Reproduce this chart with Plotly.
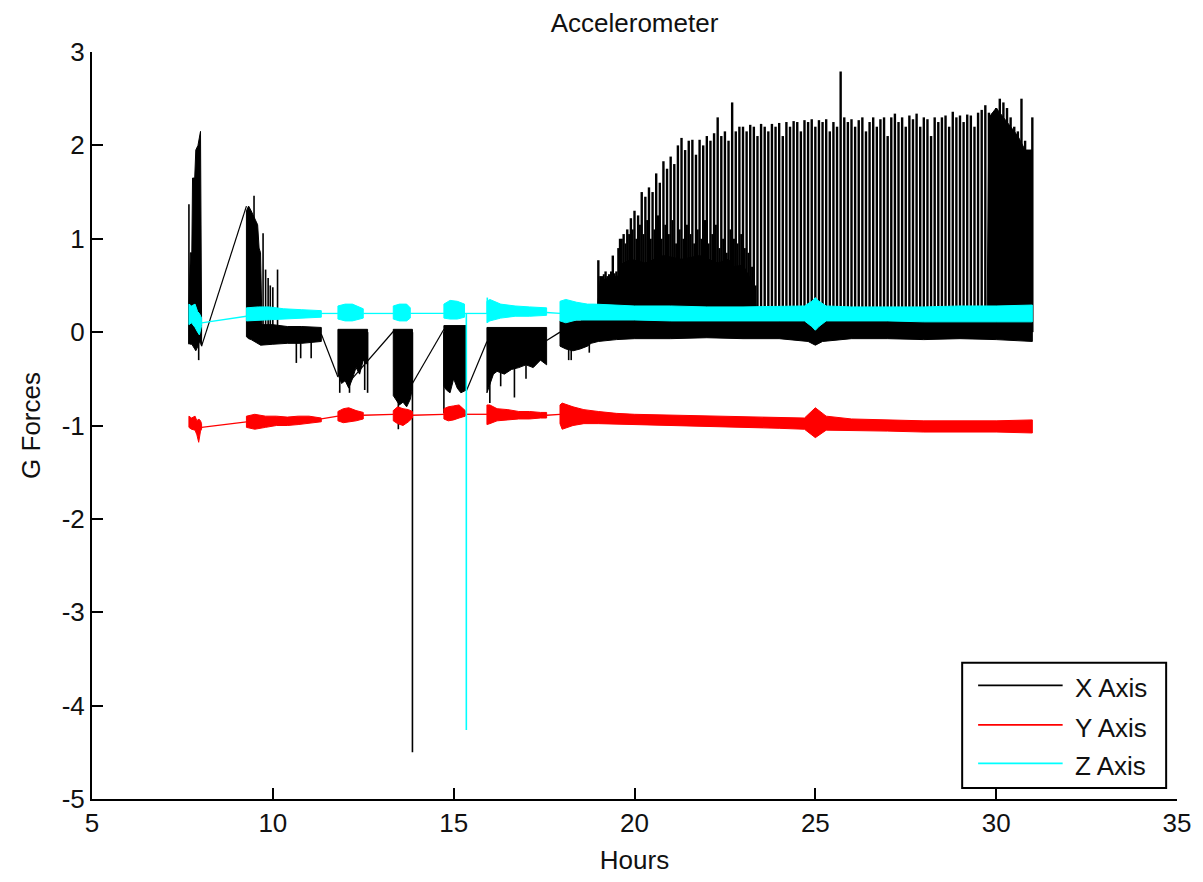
import plotly.graph_objects as go

# ---------------- data (hours, G) ----------------
# X axis (black): dense envelope segments (None separates segments)
X_BAND_T = [7.68, 7.72, 7.76, 7.78, 7.84, 7.87, 7.93, 7.97, 8.0, 8.03, None,
            9.27, 9.33, 9.4, 9.5, 9.58, 9.62, 9.66, 9.7, 10.0, 10.4, 10.8, 11.34, None,
            11.8, 11.9, 12.0, 12.1, 12.2, 12.3, 12.4, 12.5, 12.62, None,
            13.33, 13.4, 13.5, 13.6, 13.7, 13.8, 13.86, None,
            14.73, 14.8, 14.9, 15.0, 15.1, 15.2, 15.35, None,
            15.92, 16.0, 16.1, 16.2, 16.4, 16.6, 16.8, 17.0, 17.2, 17.4, 17.57, None,
            17.94, 18.1, 18.3, 18.5, 18.7, 18.8, 19.0, 19.5, 20.0, 21.0, 22.0, 23.0, 24.0,
            24.8, 25.0, 25.2, 26.0, 27.0, 28.0, 29.0, 30.0, 31.0, None,
            18.95, 19.05, 19.3, 19.55, 19.6, 19.9, 20.3, 20.8, 21.3, 21.8, 22.3, 22.6,
            22.75, 23.0, 23.3, 23.4, None,
            29.75, 29.8, 30.0, 30.2, 30.4, 30.6, 30.8, 31.0]
X_BAND_HI = [0.3, 0.85, 0.85, 1.65, 1.65, 1.95, 2.0, 2.1, 2.15, 0.1, None,
             1.3, 1.35, 1.3, 1.22, 1.15, 0.9, 0.85, 0.08, 0.08, 0.06, 0.06, 0.05, None,
             0.03, 0.03, 0.03, 0.03, 0.03, 0.03, 0.03, 0.03, 0.03, None,
             0.03, 0.03, 0.03, 0.03, 0.03, 0.03, 0.03, None,
             0.07, 0.07, 0.07, 0.07, 0.07, 0.07, 0.07, None,
             0.05, 0.05, 0.05, 0.05, 0.05, 0.05, 0.05, 0.05, 0.05, 0.05, 0.05, None,
             0.12, 0.12, 0.12, 0.12, 0.15, 0.2, 0.2, 0.2, 0.2, 0.2, 0.2, 0.2, 0.2,
             0.2, 0.2, 0.2, 0.2, 0.2, 0.2, 0.2, 0.2, 0.2, None,
             0.15, 0.55, 0.58, 0.6, 0.72, 0.78, 0.74, 0.82, 0.78, 0.82, 0.74, 0.78,
             0.7, 0.72, 0.5, 0.15, None,
             0.2, 2.3, 2.4, 2.3, 2.2, 2.1, 1.95, 1.95]
X_BAND_LO = [-0.12, -0.13, -0.13, -0.15, -0.18, -0.2, -0.15, -0.1, -0.12, -0.15, None,
             -0.05, -0.07, -0.08, -0.1, -0.12, -0.13, -0.14, -0.14, -0.13, -0.12, -0.12, -0.1, None,
             -0.45, -0.55, -0.52, -0.6, -0.5, -0.38, -0.45, -0.3, -0.35, None,
             -0.68, -0.72, -0.78, -0.75, -0.8, -0.72, -0.6, None,
             -0.58, -0.62, -0.65, -0.5, -0.6, -0.65, -0.62, None,
             -0.65, -0.55, -0.45, -0.42, -0.45, -0.4, -0.38, -0.35, -0.38, -0.3, -0.35, None,
             -0.15, -0.18, -0.2, -0.18, -0.15, -0.12, -0.1, -0.08, -0.07, -0.07, -0.06, -0.07, -0.07,
             -0.1, -0.14, -0.1, -0.07, -0.07, -0.08, -0.07, -0.08, -0.1, None,
             0.1, 0.1, 0.1, 0.1, 0.1, 0.1, 0.1, 0.1, 0.1, 0.1, 0.1, 0.1,
             0.1, 0.1, 0.1, 0.1, None,
             0.1, 0.1, 0.1, 0.1, 0.1, 0.1, 0.1, 0.1]

# X axis isolated spikes: time, low, high
X_SPIKE_T = [7.68, 7.95, 9.48, 9.73, 9.8, 9.87, 9.93, 10.0, 10.13, 10.65, 10.77, 11.06,
             11.85, 12.12, 12.54, 12.62, 13.47, 13.86, 14.73, 16.0, 16.3, 16.68, 17.0,
             18.18, 18.25, 18.75]
X_SPIKE_LO = [-0.13, -0.3, 0.0, 0.0, 0.0, 0.0, 0.0, 0.0, 0.0, -0.33, -0.28, -0.28,
              -0.65, -0.65, -0.62, -0.65, -1.04, -4.5, -0.87, -0.76, -0.58, -0.7, -0.5,
              -0.3, -0.3, -0.22]
X_SPIKE_HI = [1.37, 0.0, 1.46, 1.06, 0.67, 0.58, 0.5, 0.48, 0.67, 0.0, 0.0, 0.0,
              0.0, 0.0, 0.0, 0.0, 0.0, 0.0, 0.0, 0.0, 0.0, 0.0, 0.0,
              0.0, 0.0, 0.0]

# X axis periodic pulses after 19 h
X_PULSE_BASE = 0.0
X_PULSE_T = [19.0, 19.1, 19.2, 19.3, 19.4, 19.5, 19.6, 19.7, 19.8, 19.9,
             20.0, 20.1, 20.2, 20.3, 20.4, 20.5, 20.6, 20.7, 20.8, 20.9,
             21.0, 21.1, 21.2, 21.3, 21.4, 21.5, 21.6, 21.7, 21.8, 21.9,
             22.0, 22.1, 22.2, 22.3, 22.4, 22.5, 22.6, 22.7, 22.8, 22.9,
             23.0, 23.1, 23.2, 23.3, 23.4, 23.5, 23.6, 23.7, 23.8, 23.9,
             24.0, 24.1, 24.2, 24.3, 24.4, 24.5, 24.6, 24.7, 24.8, 24.9,
             25.0, 25.1, 25.2, 25.3, 25.4, 25.5, 25.6, 25.7, 25.8, 25.9,
             26.0, 26.1, 26.2, 26.3, 26.4, 26.5, 26.6, 26.7, 26.8, 26.9,
             27.0, 27.1, 27.2, 27.3, 27.4, 27.5, 27.6, 27.7, 27.8, 27.9,
             28.0, 28.1, 28.2, 28.3, 28.4, 28.5, 28.6, 28.7, 28.8, 28.9,
             29.0, 29.1, 29.2, 29.3, 29.4, 29.5, 29.6, 29.7, 29.8, 29.9,
             30.0, 30.1, 30.2, 30.3, 30.4, 30.5, 30.6, 30.7, 30.8, 30.9, 31.0]
X_PULSE_PEAK = [0.77, 0.6, 0.65, 0.62, 0.82, 0.65, 1.0, 1.05, 1.1, 1.22,
                1.3, 1.25, 1.5, 1.45, 1.55, 1.5, 1.7, 1.6, 1.83, 1.75,
                1.88, 1.8, 2.0, 2.08, 1.95, 2.05, 2.06, 1.9, 2.06, 2.0,
                2.1, 2.05, 2.13, 2.3, 2.1, 2.15, 2.05, 2.46, 2.15, 2.2,
                2.2, 2.15, 2.22, 2.2, 2.1, 2.23, 2.2, 2.15, 2.23, 2.2,
                2.24, 2.1, 2.25, 2.2, 2.26, 2.25, 2.15, 2.27, 2.25, 2.28,
                2.2, 2.27, 2.25, 2.28, 2.15, 2.25, 2.2, 2.79, 2.3, 2.25,
                2.28, 2.2, 2.27, 2.3, 2.15, 2.25, 2.3, 2.2, 2.28, 2.3,
                2.1, 2.3, 2.34, 2.25, 2.3, 2.2, 2.32, 2.28, 2.34, 2.2,
                2.3, 2.28, 2.1, 2.3, 2.25, 2.3, 2.32, 2.2, 2.36, 2.3,
                2.32, 2.25, 2.33, 2.32, 2.2, 2.35, 2.38, 2.43, 2.35, 2.34,
                2.4, 2.5, 2.46, 2.4, 2.3, 2.2, 2.15, 2.5, 2.05, 1.95, 2.3]
# shorter in-between pulses (19-23.4 h) that make the dense lower part
X_MINOR_T = [19.05, 19.15, 19.25, 19.35, 19.45, 19.55, 19.65, 19.75, 19.85, 19.95,
             20.05, 20.15, 20.25, 20.35, 20.45, 20.55, 20.65, 20.75, 20.85, 20.95,
             21.05, 21.15, 21.25, 21.35, 21.45, 21.55, 21.65, 21.75, 21.85, 21.95,
             22.05, 22.15, 22.25, 22.35, 22.45, 22.55, 22.65, 22.75, 22.85, 22.95,
             23.05, 23.15, 23.25, 23.35]
X_MINOR_PEAK = [0.6, 0.62, 0.6, 0.65, 0.63, 0.9, 1.0, 0.95, 1.05, 1.1,
                1.0, 1.15, 1.05, 1.2, 1.0, 1.1, 1.25, 1.0, 1.15, 1.05,
                1.2, 0.95, 1.1, 1.0, 1.15, 1.05, 0.95, 1.1, 1.0, 1.2,
                0.95, 1.05, 1.15, 0.9, 1.0, 0.85, 1.1, 1.0, 0.95, 1.05,
                0.9, 0.85, 0.7, 0.5]

# X axis straight lines across recording gaps
X_LINK_T = [8.03, 9.27, None, 11.34, 11.8, None, 12.08, 13.36, None,
            13.86, 14.73, None, 15.35, 15.92, None, 17.57, 17.94]
X_LINK_V = [-0.15, 1.35, None, -0.02, -0.48, None, -0.55, 0.02, None,
            -0.55, 0.03, None, -0.63, -0.1, None, -0.09, 0.0]

# Y axis (red)
Y_BAND_T = [7.68, 7.75, 7.85, 7.9, 7.95, 8.0, 8.03, None,
            9.27, 9.5, 9.8, 10.1, 10.4, 10.7, 11.0, 11.34, None,
            11.8, 11.95, 12.1, 12.3, 12.5, None,
            13.33, 13.45, 13.6, 13.75, 13.86, None,
            14.73, 14.85, 15.0, 15.15, 15.32, None,
            15.92, 16.0, 16.2, 16.5, 16.8, 17.1, 17.4, 17.57, None,
            17.94, 18.0, 18.3, 18.6, 19.0, 19.5, 20.0, 21.0, 22.0, 23.0, 24.0,
            24.7, 25.0, 25.3, 26.0, 27.0, 28.0, 29.0, 30.0, 31.0]
Y_BAND_HI = [-0.9, -0.92, -0.9, -0.95, -0.93, -0.95, -0.98, None,
             -0.9, -0.88, -0.9, -0.9, -0.91, -0.9, -0.9, -0.92, None,
             -0.85, -0.82, -0.81, -0.84, -0.86, None,
             -0.84, -0.8, -0.82, -0.83, -0.85, None,
             -0.82, -0.8, -0.79, -0.78, -0.84, None,
             -0.78, -0.78, -0.82, -0.83, -0.85, -0.85, -0.86, -0.86, None,
             -0.78, -0.76, -0.8, -0.83, -0.85, -0.87, -0.88, -0.89, -0.9, -0.91, -0.92,
             -0.92, -0.81, -0.9, -0.93, -0.94, -0.95, -0.95, -0.95, -0.94]
Y_BAND_LO = [-1.02, -1.04, -1.05, -1.1, -1.18, -1.06, -1.04, None,
             -1.02, -1.04, -1.02, -1.0, -1.0, -0.99, -0.98, -0.96, None,
             -0.95, -0.97, -0.96, -0.95, -0.93, None,
             -0.95, -0.98, -1.0, -0.96, -0.92, None,
             -0.93, -0.95, -0.94, -0.92, -0.9, None,
             -0.99, -0.98, -0.95, -0.94, -0.93, -0.93, -0.92, -0.92, None,
             -0.98, -1.04, -1.0, -0.98, -0.98, -0.98, -0.99, -1.0, -1.01, -1.02, -1.03,
             -1.04, -1.13, -1.05, -1.05, -1.06, -1.07, -1.07, -1.07, -1.08]
Y_LINK_T = [8.03, 9.27, None, 11.34, 11.8, None, 12.5, 13.33, None,
            13.86, 14.73, None, 15.32, 15.92, None, 17.57, 17.94]
Y_LINK_V = [-1.02, -0.96, None, -0.93, -0.9, None, -0.89, -0.88, None,
            -0.89, -0.88, None, -0.88, -0.88, None, -0.89, -0.88]

# Z axis (cyan)
Z_BAND_T = [7.68, 7.75, 7.85, 7.92, 7.97, 8.03, None,
            9.27, 9.6, 9.9, 10.3, 10.8, 11.34, None,
            11.8, 12.0, 12.2, 12.4, 12.5, None,
            13.33, 13.5, 13.7, 13.8, None,
            14.73, 14.9, 15.1, 15.3, None,
            15.92, 16.0, 16.3, 16.7, 17.1, 17.57, None,
            17.94, 18.1, 18.4, 18.7, 18.9, 19.5, 20.0, 21.0, 22.0, 23.0, 24.0,
            24.7, 24.9, 25.0, 25.1, 25.3, 26.0, 27.0, 28.0, 29.0, 30.0, 31.0]
Z_BAND_HI = [0.3, 0.28, 0.3, 0.22, 0.2, 0.15, None,
             0.26, 0.27, 0.27, 0.25, 0.24, 0.23, None,
             0.28, 0.3, 0.3, 0.27, 0.25, None,
             0.28, 0.3, 0.3, 0.26, None,
             0.3, 0.34, 0.33, 0.3, None,
             0.33, 0.35, 0.3, 0.28, 0.27, 0.26, None,
             0.33, 0.35, 0.32, 0.3, 0.3, 0.29, 0.28, 0.28, 0.27, 0.27, 0.28,
             0.28, 0.33, 0.37, 0.33, 0.28, 0.27, 0.27, 0.27, 0.28, 0.28, 0.29]
Z_BAND_LO = [0.08, 0.1, 0.05, 0.0, -0.03, 0.07, None,
             0.12, 0.12, 0.13, 0.14, 0.15, 0.16, None,
             0.14, 0.12, 0.12, 0.14, 0.15, None,
             0.14, 0.12, 0.12, 0.15, None,
             0.15, 0.14, 0.14, 0.16, None,
             0.1, 0.12, 0.15, 0.17, 0.17, 0.18, None,
             0.12, 0.1, 0.13, 0.13, 0.13, 0.13, 0.13, 0.12, 0.12, 0.12, 0.12,
             0.12, 0.06, 0.02, 0.06, 0.12, 0.12, 0.12, 0.11, 0.11, 0.11, 0.11]
Z_SPIKE_T = [15.35, 15.93]
Z_SPIKE_LO = [-4.26, 0.2]
Z_SPIKE_HI = [0.2, 0.37]
Z_LINK_T = [8.03, 9.27, None, 11.34, 11.8, None, 12.5, 13.33, None,
            13.8, 14.73, None, 15.3, 15.92, None, 17.57, 17.94]
Z_LINK_V = [0.1, 0.17, None, 0.2, 0.2, None, 0.2, 0.2, None,
            0.2, 0.2, None, 0.2, 0.2, None, 0.21, 0.2]

SERIES_NAMES = ["X Axis", "Y Axis", "Z Axis"]
SERIES_COLORS = ["#000000", "#FF0000", "#00FFFF"]
X_TICKS = [5, 10, 15, 20, 25, 30, 35]
Y_TICKS = [-5, -4, -3, -2, -1, 0, 1, 2, 3]
Y_TICK_TEXT = ["-5", "-4", "-3", "-2", "-1", "0", "1", "2", "3"]

FONT = "Liberation Sans, Arial, Helvetica, sans-serif"
TXT = "#111111"


def band_polygons(t, hi, lo):
    xs, ys = [], []
    st, sh, sl = [], [], []
    for a, b, c in list(zip(t, hi, lo)) + [(None, None, None)]:
        if a is None:
            if st:
                xs += st + st[::-1] + [st[0], None]
                ys += sh + sl[::-1] + [sh[0], None]
            st, sh, sl = [], [], []
        else:
            st.append(a); sh.append(b); sl.append(c)
    return xs, ys


def vertical_segments(t, lo, hi):
    xs, ys = [], []
    for a, b, c in zip(t, lo, hi):
        xs += [a, a, None]
        ys += [b, c, None]
    return xs, ys


fig = go.Figure()


def add_band(t, hi, lo, color):
    xs, ys = band_polygons(t, hi, lo)
    fig.add_trace(go.Scatter(x=xs, y=ys, mode="lines", fill="toself",
                             fillcolor=color, line=dict(color=color, width=1),
                             showlegend=False, hoverinfo="skip"))


def add_lines(xs, ys, color, width=1.3):
    fig.add_trace(go.Scatter(x=xs, y=ys, mode="lines", connectgaps=False,
                             line=dict(color=color, width=width),
                             showlegend=False, hoverinfo="skip"))


cx, cy, cz = SERIES_COLORS
# X axis series
add_band(X_BAND_T, X_BAND_HI, X_BAND_LO, cx)
sx, sy = vertical_segments(X_SPIKE_T, X_SPIKE_LO, X_SPIKE_HI)
add_lines(sx, sy, cx, 1.6)
mx, my = vertical_segments(X_MINOR_T, [X_PULSE_BASE] * len(X_MINOR_T), X_MINOR_PEAK)
add_lines(mx, my, cx, 2.0)
px, py = vertical_segments(X_PULSE_T, [X_PULSE_BASE] * len(X_PULSE_T), X_PULSE_PEAK)
add_lines(px, py, cx, 2.4)
add_lines(X_LINK_T, X_LINK_V, cx, 1.2)
# Y axis series
add_band(Y_BAND_T, Y_BAND_HI, Y_BAND_LO, cy)
add_lines(Y_LINK_T, Y_LINK_V, cy, 1.3)
# Z axis series
add_band(Z_BAND_T, Z_BAND_HI, Z_BAND_LO, cz)
zx, zy = vertical_segments(Z_SPIKE_T, Z_SPIKE_LO, Z_SPIKE_HI)
add_lines(zx, zy, cz, 1.6)
add_lines(Z_LINK_T, Z_LINK_V, cz, 1.3)

# legend (MATLAB style box, bottom-right inside the axes)
LEG_X0, LEG_X1, LEG_Y0, LEG_Y1 = 0.802, 0.990, 0.0146, 0.1825
LINE_X0, LINE_X1, TEXT_X = 0.8167, 0.8946, 0.9038
ROW_Y = [0.152, 0.0992, 0.0476]
shapes = [dict(type="rect", xref="paper", yref="paper", x0=LEG_X0, x1=LEG_X1,
               y0=LEG_Y0, y1=LEG_Y1, line=dict(color="black", width=2),
               fillcolor="white", layer="above")]
annotations = []
for name, col, ry in zip(SERIES_NAMES, SERIES_COLORS, ROW_Y):
    shapes.append(dict(type="line", xref="paper", yref="paper", x0=LINE_X0, x1=LINE_X1,
                       y0=ry, y1=ry, line=dict(color=col, width=1.8), layer="above"))
    annotations.append(dict(text=name, xref="paper", yref="paper", x=TEXT_X, y=ry - 0.004,
                            xanchor="left", yanchor="middle", showarrow=False,
                            font=dict(family=FONT, size=26, color=TXT)))

# the page body adds an 8 px offset, so the figure is 8 px smaller
fig.update_layout(
    width=1195, height=874,
    paper_bgcolor="white", plot_bgcolor="white",
    margin=dict(l=84, r=12, t=44, b=66),
    showlegend=False,
    title=dict(text="Accelerometer", x=0.5, xref="paper", xanchor="center",
               y=1 - 15 / 874, yref="container", yanchor="middle",
               font=dict(family=FONT, size=26, color=TXT)),
    font=dict(family=FONT, size=26, color=TXT),
    shapes=shapes, annotations=annotations,
)
fig.update_xaxes(range=[5, 35], tickvals=X_TICKS, ticks="inside", ticklen=11, tickwidth=2,
                 tickcolor="black", showline=True, linewidth=2, linecolor="black",
                 showgrid=False, zeroline=False, mirror=False, ticklabeloverflow="allow",
                 tickfont=dict(family=FONT, size=26, color=TXT),
                 title=dict(text="Hours", standoff=14, font=dict(family=FONT, size=26, color=TXT)))
fig.update_yaxes(range=[-5, 3], tickvals=Y_TICKS, ticktext=Y_TICK_TEXT, ticks="inside",
                 ticklen=11, tickwidth=2,
                 tickcolor="black", showline=True, linewidth=2, linecolor="black",
                 showgrid=False, zeroline=False, mirror=False,
                 tickfont=dict(family=FONT, size=26, color=TXT),
                 title=dict(text="G Forces", standoff=14, font=dict(family=FONT, size=26, color=TXT)))

fig.write_html("out.html")
